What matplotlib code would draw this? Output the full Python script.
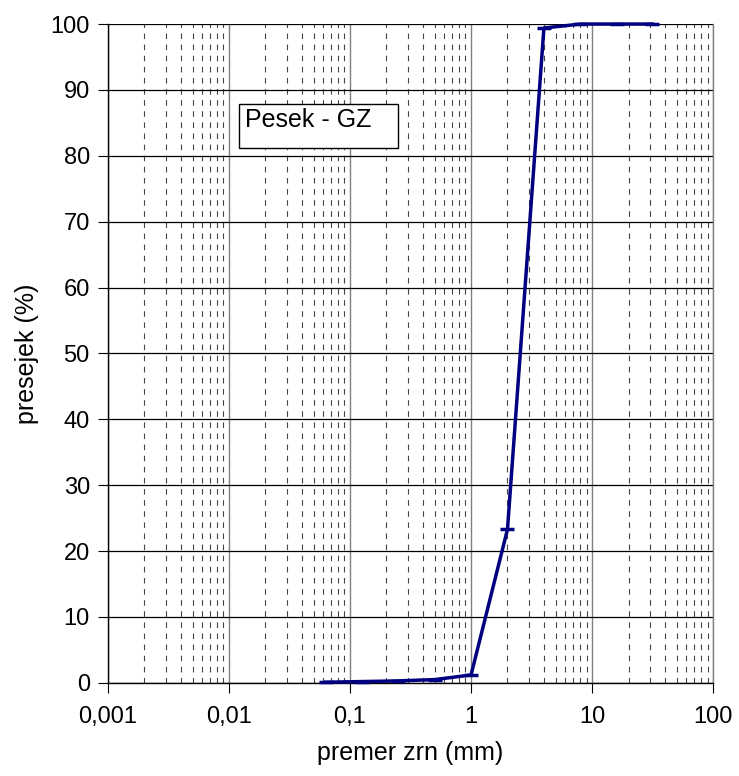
import numpy as np
import matplotlib.pyplot as plt
from matplotlib.patches import Rectangle
from matplotlib.ticker import FixedLocator, LogLocator, NullFormatter

plt.rcParams['font.family'] = ['Liberation Sans', 'DejaVu Sans']

# sieve sizes (mm) and passing (%)
sieve_mm = [0.063, 0.125, 0.25, 0.5, 1.0, 2.0, 4.0, 8.0, 16.0, 31.5]
passing = [0.1, 0.2, 0.3, 0.5, 1.2, 23.3, 99.4, 100.0, 100.0, 100.0]

x_ticks = [0.001, 0.01, 0.1, 1, 10, 100]
x_labels = ['0,001', '0,01', '0,1', '1', '10', '100']
y_ticks = list(range(0, 101, 10))

fig = plt.figure(figsize=(7.39, 7.76), dpi=100)
ax = fig.add_axes([0.146, 0.120, 0.819, 0.849])

ax.set_xscale('log')
ax.set_xlim(0.001, 100)
ax.set_ylim(0, 100)

# grid: dashed minor verticals, solid majors
ax.xaxis.set_minor_locator(LogLocator(base=10, subs=np.arange(2, 10)))
ax.xaxis.set_minor_formatter(NullFormatter())
ax.grid(True, which='minor', axis='x', color='#444444', linestyle=(0, (5, 5)), linewidth=0.8)
ax.grid(True, which='major', axis='x', color='#808080', linestyle='-', linewidth=1.0)
ax.grid(True, which='major', axis='y', color='black', linestyle='-', linewidth=0.9)
ax.set_axisbelow(True)

ax.plot(sieve_mm, passing, color='#000080', linewidth=2.5, marker='_',
        markersize=10, markeredgewidth=2.5, clip_on=False, zorder=3)

ax.xaxis.set_major_locator(FixedLocator(x_ticks))
ax.set_xticklabels(x_labels)
ax.set_yticks(y_ticks)
ax.tick_params(axis='both', which='major', labelsize=17, length=7, direction='out')
ax.tick_params(axis='x', which='major', pad=10)
ax.tick_params(axis='y', which='major', pad=6)
ax.tick_params(axis='x', which='minor', length=0)

for s in ax.spines.values():
    s.set_color('black')
    s.set_linewidth(1.0)
ax.spines['top'].set_visible(False)
ax.spines['right'].set_color('#808080')

ax.set_xlabel('premer zrn (mm)', fontsize=18, labelpad=9)
ax.set_ylabel('presejek (%)', fontsize=18, labelpad=8)

# label box
ax.add_patch(Rectangle((0.0121, 81.2), 0.2494 - 0.0121, 87.9 - 81.2, facecolor='white',
                       edgecolor='black', linewidth=1.0, zorder=4))
ax.text(0.01356, 85.4, 'Pesek - GZ', fontsize=18, ha='left', va='center', zorder=5)

fig.savefig('out.png', dpi=100)
